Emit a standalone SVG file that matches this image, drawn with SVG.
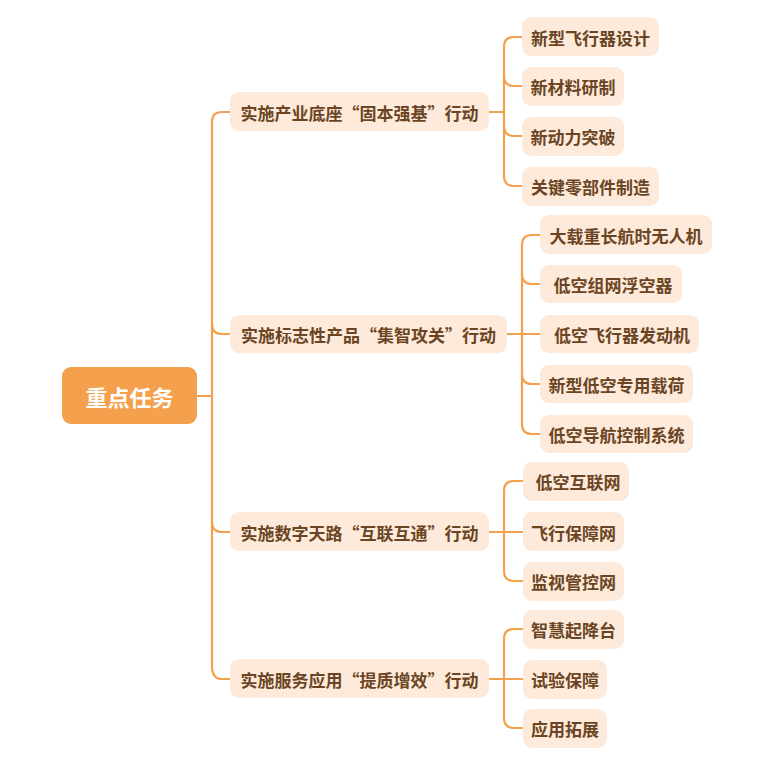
<svg xmlns="http://www.w3.org/2000/svg" width="775" height="766" viewBox="0 0 775 766">
<style>
.n rect{fill:#FDEADA;}
.n text{font-family:"Noto Sans CJK SC","Noto Sans",sans-serif;font-size:17px;font-weight:bold;fill:#6B4523;text-anchor:middle;dominant-baseline:central;}
.root rect{fill:#F5A04C;}
.root text{font-family:"Noto Sans CJK SC","Noto Sans",sans-serif;font-size:22px;font-weight:bold;fill:#FFFFFF;text-anchor:middle;dominant-baseline:central;}
.c path{fill:none;stroke:#F5A04C;stroke-width:2.2;stroke-linecap:round;}
</style>
<rect width="775" height="766" fill="#FFFFFF"/>
<g class="c" id="connectors">
<path d="M197 396 H212"/>
<path d="M230 112 H222 Q212 112 212 122 V666 Q212 679 222 679 H230"/>
<path d="M212 324 Q212 334 222 334 H230"/>
<path d="M212 522 Q212 532 222 532 H230"/>
<path d="M489 112 H504"/>
<path d="M522 37 H514 Q504 37 504 47 V176 Q504 186 514 186 H522"/>
<path d="M504 76 Q504 86 514 86 H522"/>
<path d="M504 126 Q504 136 514 136 H522"/>
<path d="M507 334 H540"/>
<path d="M540 235 H532 Q522 235 522 245 V424 Q522 434 532 434 H540"/>
<path d="M522 274 Q522 284 532 284 H540"/>
<path d="M522 374 Q522 384 532 384 H540"/>
<path d="M489 532 H504"/>
<path d="M523 481 H514 Q504 481 504 491 V571 Q504 581 514 581 H523"/>
<path d="M504 532 H523"/>
<path d="M489 679 H504"/>
<path d="M523 629 H514 Q504 629 504 639 V718 Q504 728 514 728 H523"/>
<path d="M504 679 H523"/>
</g>
<g class="root" id="root"><rect x="62" y="367" width="135" height="57" rx="9"/><text x="129.5" y="396">重点任务</text></g>
<g class="n" id="b1"><rect x="230" y="92" width="259" height="39" rx="9"/><text x="359.5" y="112">实施产业底座“固本强基”行动</text></g>
<g class="n" id="b2"><rect x="230" y="315" width="277" height="38" rx="9"/><text x="368.5" y="334">实施标志性产品“集智攻关”行动</text></g>
<g class="n" id="b3"><rect x="230" y="512" width="259" height="39" rx="9"/><text x="359.5" y="532">实施数字天路“互联互通”行动</text></g>
<g class="n" id="b4"><rect x="230" y="659" width="259" height="39" rx="9"/><text x="359.5" y="679">实施服务应用“提质增效”行动</text></g>
<g class="n" id="l11"><rect x="522" y="17" width="137" height="39" rx="9"/><text x="590.5" y="37">新型飞行器设计</text></g>
<g class="n" id="l12"><rect x="522" y="67" width="102" height="39" rx="9"/><text x="573" y="86">新材料研制</text></g>
<g class="n" id="l13"><rect x="522" y="117" width="102" height="39" rx="9"/><text x="573" y="136">新动力突破</text></g>
<g class="n" id="l14"><rect x="522" y="167" width="137" height="39" rx="9"/><text x="590.5" y="186">关键零部件制造</text></g>
<g class="n" id="l21"><rect x="540" y="215" width="172" height="39" rx="9"/><text x="626" y="235">大载重长航时无人机</text></g>
<g class="n" id="l22"><rect x="540" y="265" width="142" height="38" rx="9"/><text x="613" y="284">低空组网浮空器</text></g>
<g class="n" id="l23"><rect x="540" y="315" width="159" height="38" rx="9"/><text x="622" y="334">低空飞行器发动机</text></g>
<g class="n" id="l24"><rect x="540" y="365" width="153" height="38" rx="9"/><text x="616.5" y="384">新型低空专用载荷</text></g>
<g class="n" id="l25"><rect x="540" y="415" width="153" height="38" rx="9"/><text x="616.5" y="434">低空导航控制系统</text></g>
<g class="n" id="l31"><rect x="523" y="462" width="106" height="39" rx="9"/><text x="578" y="481">低空互联网</text></g>
<g class="n" id="l32"><rect x="523" y="512" width="101" height="39" rx="9"/><text x="573.5" y="532">飞行保障网</text></g>
<g class="n" id="l33"><rect x="523" y="562" width="101" height="39" rx="9"/><text x="573.5" y="581">监视管控网</text></g>
<g class="n" id="l41"><rect x="523" y="610" width="101" height="39" rx="9"/><text x="573.5" y="629">智慧起降台</text></g>
<g class="n" id="l42"><rect x="523" y="660" width="84" height="39" rx="9"/><text x="565" y="679">试验保障</text></g>
<g class="n" id="l43"><rect x="523" y="709" width="84" height="39" rx="9"/><text x="565" y="728">应用拓展</text></g>
</svg>
